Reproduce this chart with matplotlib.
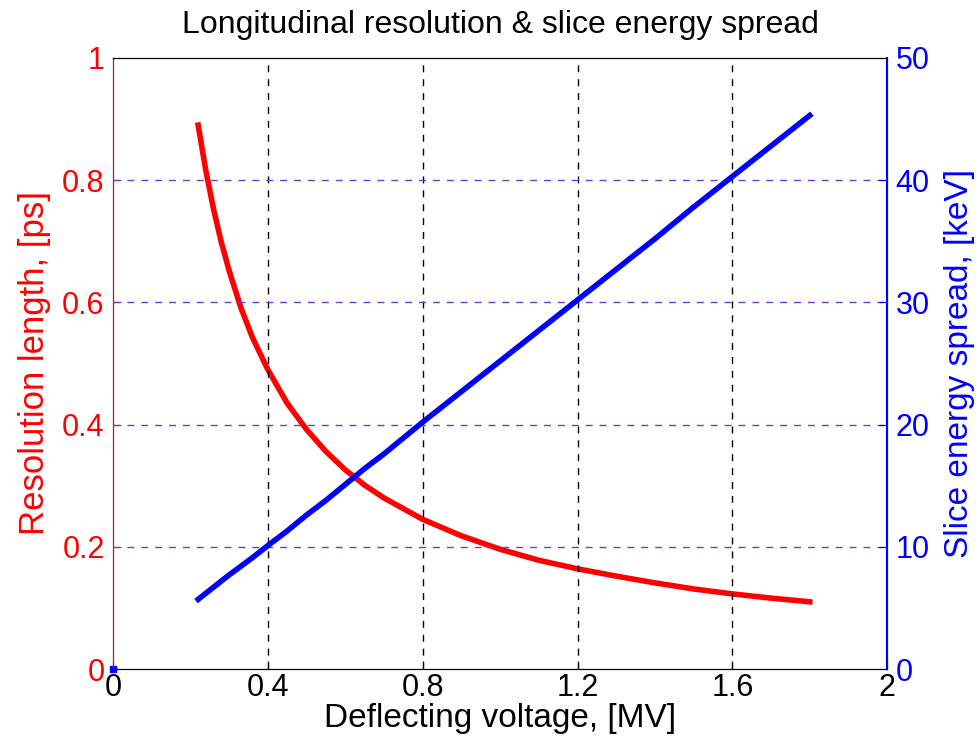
import numpy as np
from matplotlib import pyplot as plt

plt.rcParams["font.family"] = ["Liberation Sans", "DejaVu Sans"]

# Deflecting voltage [MV]
voltage = [0.22, 0.24, 0.26, 0.28, 0.3, 0.33, 0.36, 0.4, 0.45, 0.5, 0.55, 0.6,
           0.65, 0.7, 0.8, 0.9, 1.0, 1.1, 1.2, 1.3, 1.4, 1.5, 1.6, 1.7, 1.8]
# Resolution length [ps]
resolution = [0.89, 0.815, 0.752, 0.698, 0.652, 0.592, 0.543, 0.49, 0.435, 0.392,
              0.356, 0.326, 0.301, 0.28, 0.245, 0.218, 0.196, 0.178, 0.164, 0.152,
              0.141, 0.131, 0.123, 0.116, 0.110]
# Slice energy spread [keV]
spread = [5.7, 6.2, 6.7, 7.2, 7.7, 8.4, 9.1, 10.1, 11.3, 12.6, 13.8, 15.1,
          16.4, 17.6, 20.2, 22.7, 25.2, 27.7, 30.2, 32.7, 35.2, 37.8, 40.3, 42.8, 45.3]

xticks = [0, 0.4, 0.8, 1.2, 1.6, 2]
xticklabels = ["0", "0.4", "0.8", "1.2", "1.6", "2"]
left_ticks = [0, 0.2, 0.4, 0.6, 0.8, 1]
left_ticklabels = ["0", "0.2", "0.4", "0.6", "0.8", "1"]
right_ticks = [0, 10, 20, 30, 40, 50]

fig = plt.figure(figsize=(9.8, 7.48), dpi=100)
fig.patch.set_facecolor("white")
ax = fig.add_axes([0.1153, 0.1056, 0.79, 0.8169])
ax2 = ax.twinx()

ax.plot(voltage, resolution, color="red", linewidth=4)
ax2.plot(voltage, spread, color="blue", linewidth=4)
ax2.plot([0], [0], marker="s", color="blue", markersize=4, clip_on=False)

ax.set_xlim(0, 2)
ax.set_ylim(0, 1)
ax2.set_ylim(0, 50)

for xv in xticks[1:-1]:
    ax.axvline(xv, color="black", linestyle=(0, (5, 5)), linewidth=1)
for yv in left_ticks[1:-1]:
    ax.axhline(yv, color="#6a3fd0", linestyle=(0, (5, 5)), linewidth=1)

ax.set_xticks(xticks)
ax.set_xticklabels(xticklabels)
ax.set_yticks(left_ticks)
ax.set_yticklabels(left_ticklabels)
ax2.set_yticks(right_ticks)

ax.tick_params(axis="x", labelsize=22, direction="in", length=6, colors="black", pad=3)
ax.tick_params(axis="y", labelsize=22, direction="in", length=6, colors="red", pad=6)
ax2.tick_params(axis="y", labelsize=22, direction="in", length=6, colors="blue", pad=6)

ax2.spines["left"].set_color("red")
ax2.spines["right"].set_color("blue")
ax2.spines["right"].set_linewidth(1.5)
ax2.spines["top"].set_color("black")
ax2.spines["bottom"].set_color("black")

ax.set_xlabel("Deflecting voltage, [MV]", fontsize=24, labelpad=0)
ax.set_ylabel("Resolution length, [ps]", fontsize=25, color="red", labelpad=8)
ax2.set_ylabel("Slice energy spread, [keV]", fontsize=24, color="blue", labelpad=10)
ax.set_title("Longitudinal resolution & slice energy spread", fontsize=23, pad=18)

plt.savefig("out.png", dpi=100)
plt.close(fig)
